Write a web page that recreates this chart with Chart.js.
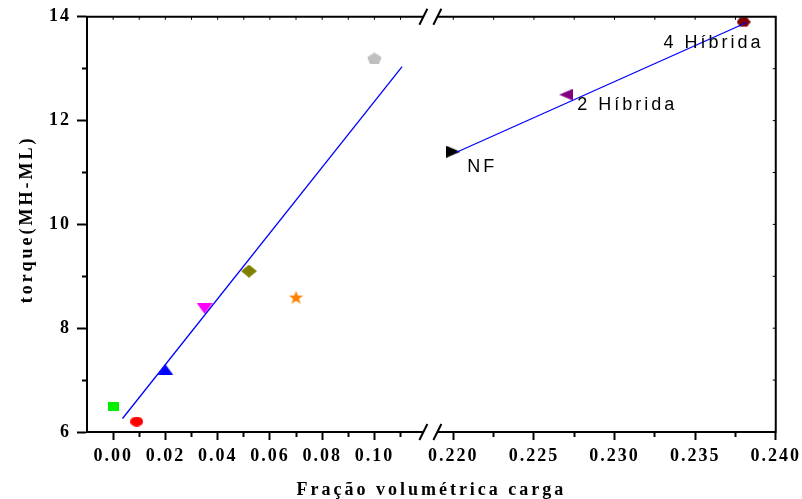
<!DOCTYPE html>
<html>
<head>
<meta charset="utf-8">
<script src="https://cdn.jsdelivr.net/npm/chart.js@4"></script>
<style>
  html, body { margin: 0; padding: 0; background: #fff; }
  #wrap { width: 802px; height: 499px; }
</style>
</head>
<body>
<div id="wrap"><canvas id="chart"></canvas></div>
<script>
// single fillers (left block of the broken axis)
const fillerX = [0.000, 0.009, 0.020, 0.035, 0.052, 0.070, 0.100];
const fillerY = [6.5, 6.2, 7.2, 8.38, 9.1, 8.6, 13.2];
const fillerColors = ['#00ee00', '#ff0000', '#0000ff', '#ff00ff', '#808000', '#ff8000', '#c0c0c0'];
const fillerShapes = ['square', 'circle', 'triUp', 'triDown', 'diamond', 'star', 'pentagon'];
const fitLeftX = [0.0036, 0.1106];
const fitLeftY = [6.26, 13.04];

// hybrids (right block)
const hybridNames = ['NF', '2 Híbrida', '4 Híbrida'];
const hybridX = [0.220, 0.227, 0.238];
const hybridY = [11.4, 12.5, 13.9];
const hybridColors = ['#000000', '#800080', '#800000'];
const hybridShapes = ['triRight', 'triLeft', 'hexagon'];
const fitRightX = [0.2202, 0.2382];
const fitRightY = [11.39, 13.89];

// ticks
const leftTicks = [0, 0.02, 0.04, 0.06, 0.08, 0.10];
const leftMinor = [0.01, 0.03, 0.05, 0.07, 0.09, 0.11];
const rightTicks = [0.220, 0.225, 0.230, 0.235, 0.240];
const rightMinor = [0.2225, 0.2275, 0.2325, 0.2375];
const yTicks = [6, 8, 10, 12, 14];
const yMinor = [7, 9, 11, 13];

const markerSize = {
  square: [11, 9], circle: [13, 10], triUp: [16, 11], triDown: [16, 11], diamond: [16, 13],
  star: [15, 13], pentagon: [15, 12], triRight: [14, 12], triLeft: [14, 12], hexagon: [14, 11]
};
const labelOffsets = [[14, 20], [11, 15], [-80, 26]];

function polygon(g, n, cx, cy, rx, ry, start, inner) {
  const pts = inner ? n * 2 : n;
  for (let i = 0; i < pts; i++) {
    const ang = start + i * 2 * Math.PI / pts;
    const k = inner && i % 2 ? inner : 1;
    const px = cx + Math.cos(ang) * rx * k, py = cy + Math.sin(ang) * ry * k;
    i ? g.lineTo(px, py) : g.moveTo(px, py);
  }
}

function marker(shape, color) {
  const [w, h] = markerSize[shape];
  const c = document.createElement('canvas');
  c.width = w; c.height = h;
  const g = c.getContext('2d');
  const cx = w / 2, cy = h / 2;
  g.fillStyle = color;
  g.beginPath();
  if (shape === 'square') g.rect(0, 0, w, h);
  else if (shape === 'circle') g.ellipse(cx, cy, cx, cy, 0, 0, 2 * Math.PI);
  else if (shape === 'triUp') { g.moveTo(cx, 0); g.lineTo(w, h); g.lineTo(0, h); }
  else if (shape === 'triDown') { g.moveTo(0, 0); g.lineTo(w, 0); g.lineTo(cx, h); }
  else if (shape === 'triRight') { g.moveTo(0, 0); g.lineTo(w, cy); g.lineTo(0, h); }
  else if (shape === 'triLeft') { g.moveTo(w, 0); g.lineTo(0, cy); g.lineTo(w, h); }
  else if (shape === 'diamond') { g.moveTo(cx, 0); g.lineTo(w, cy); g.lineTo(cx, h); g.lineTo(0, cy); }
  else if (shape === 'star') polygon(g, 5, cx, cy + 0.8, cx, cy + 0.6, -Math.PI / 2, 0.42);
  else if (shape === 'pentagon') polygon(g, 5, cx, cy + 0.8, cx, cy + 0.6, -Math.PI / 2);
  else if (shape === 'hexagon') polygon(g, 6, cx, cy, cx, cy, 0);
  g.closePath();
  g.fill();
  return c;
}

const near = (v, list) => list.some(t => Math.abs(t - v) < 1e-6);
const serif = "'Liberation Serif', 'Times New Roman', serif";
const sans = "'Liberation Sans', Arial, sans-serif";

function xScale(min, max, majors, minors, digits) {
  return {
    type: 'linear', position: 'bottom', stack: 'xs', stackWeight: 1,
    min: min, max: max,
    afterBuildTicks: s => { s.ticks = majors.concat(minors).sort((a, b) => a - b).map(v => ({ value: v })); },
    afterFit: s => { s.height = 67; },
    ticks: {
      autoSkip: false, maxRotation: 0, padding: 6, color: '#000',
      font: { family: serif, size: 18, weight: 'bold' },
      callback: v => near(v, majors) ? v.toFixed(digits) : ''
    },
    grid: {
      drawOnChartArea: false, drawTicks: true, tickLength: 8, tickWidth: 2, tickColor: '#000',
      tickBorderDash: c => near(c.tick.value, minors) ? [4, 100] : []
    },
    border: { display: true, color: '#000', width: 2 }
  };
}

const decorations = {
  id: 'decorations',
  beforeDraw(chart) { chart.ctx.letterSpacing = '2px'; },
  afterDraw(chart) {
    const ctx = chart.ctx, a = chart.chartArea;
    const xl = chart.scales.x, xr = chart.scales.x2, ys = chart.scales.y;
    ctx.save();
    ctx.strokeStyle = '#000';
    ctx.lineWidth = 2;
    ctx.beginPath();
    ctx.moveTo(a.left - 1, a.top); ctx.lineTo(a.right + 1, a.top);
    ctx.moveTo(a.right, a.top); ctx.lineTo(a.right, a.bottom + 1);
    ctx.stroke();
    // small inward ticks on top and right
    ctx.lineWidth = 1;
    ctx.beginPath();
    leftTicks.concat(leftMinor).forEach(v => { const p = xl.getPixelForValue(v); ctx.moveTo(p, a.top); ctx.lineTo(p, a.top + 3); });
    rightTicks.concat(rightMinor).forEach(v => { const p = xr.getPixelForValue(v); ctx.moveTo(p, a.top); ctx.lineTo(p, a.top + 3); });
    yTicks.concat(yMinor).forEach(v => { const p = ys.getPixelForValue(v); ctx.moveTo(a.right, p); ctx.lineTo(a.right - 3, p); });
    ctx.stroke();
    // axis break marks
    const bx = xr.left;
    ctx.lineWidth = 2;
    [a.top, a.bottom].forEach(by => {
      ctx.fillStyle = '#fff';
      ctx.fillRect(bx - 8, by - 2, 14, 4);
      ctx.beginPath();
      ctx.moveTo(bx - 12, by + 8); ctx.lineTo(bx - 4, by - 8);
      ctx.moveTo(bx + 2, by + 8); ctx.lineTo(bx + 10, by - 8);
      ctx.stroke();
    });
    // point labels
    ctx.fillStyle = '#000';
    ctx.letterSpacing = '3px';
    ctx.font = '18px ' + sans;
    ctx.textAlign = 'left';
    ctx.textBaseline = 'alphabetic';
    hybridNames.forEach((name, i) => {
      const px = xr.getPixelForValue(hybridX[i]), py = ys.getPixelForValue(hybridY[i]);
      ctx.fillText(name, px + labelOffsets[i][0], py + labelOffsets[i][1]);
    });
    // axis titles
    ctx.font = 'bold 18px ' + serif;
    ctx.textAlign = 'center';
    ctx.fillText('Fração volumétrica carga', (a.left + a.right) / 2, 495);
    ctx.translate(27, (a.top + a.bottom) / 2 - 5);
    ctx.rotate(-Math.PI / 2);
    ctx.textBaseline = 'middle';
    ctx.fillText('torque(MH-ML)', 0, 0);
    ctx.restore();
  }
};

new Chart(document.getElementById('chart'), {
  data: {
    datasets: [
      {
        type: 'line', xAxisID: 'x', data: fitLeftX.map((x, i) => ({ x: x, y: fitLeftY[i] })),
        borderColor: '#0000ff', borderWidth: 1.3, pointRadius: 0, fill: false
      },
      {
        type: 'line', xAxisID: 'x2', data: fitRightX.map((x, i) => ({ x: x, y: fitRightY[i] })),
        borderColor: '#0000ff', borderWidth: 1.3, pointRadius: 0, fill: false
      },
      {
        type: 'scatter', xAxisID: 'x', data: fillerX.map((x, i) => ({ x: x, y: fillerY[i] })),
        pointStyle: fillerShapes.map((s, i) => marker(s, fillerColors[i])), pointRadius: 6
      },
      {
        type: 'scatter', xAxisID: 'x2', data: hybridX.map((x, i) => ({ x: x, y: hybridY[i] })),
        pointStyle: hybridShapes.map((s, i) => marker(s, hybridColors[i])), pointRadius: 6
      }
    ]
  },
  options: {
    responsive: true,
    maintainAspectRatio: false,
    animation: false,
    layout: { padding: { top: 16, right: 25, left: 0, bottom: 0 } },
    plugins: { legend: { display: false }, tooltip: { enabled: false } },
    scales: {
      x: xScale(-0.01, 0.1218, leftTicks, leftMinor, 2),
      x2: xScale(0.21864, 0.240, rightTicks, rightMinor, 3),
      y: {
        type: 'linear', position: 'left', min: 6, max: 14,
        afterBuildTicks: s => { s.ticks = yTicks.concat(yMinor).sort((a, b) => a - b).map(v => ({ value: v })); },
        afterFit: s => { s.width = 87; },
        ticks: {
          autoSkip: false, padding: 6, color: '#000',
          font: { family: serif, size: 18, weight: 'bold' },
          callback: v => near(v, yTicks) ? String(v) : ''
        },
        grid: {
          drawOnChartArea: false, drawTicks: true, tickLength: 10, tickWidth: 2, tickColor: '#000',
          tickBorderDash: c => near(c.tick.value, yMinor) ? [0, 5, 5, 100] : []
        },
        border: { display: true, color: '#000', width: 2 }
      }
    }
  },
  plugins: [decorations]
});
</script>
</body>
</html>
